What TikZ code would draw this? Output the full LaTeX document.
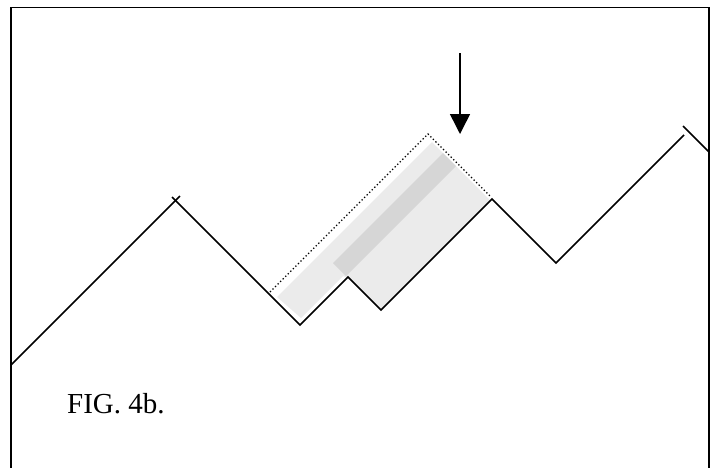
\documentclass[tikz,border=0pt]{standalone}
\usepackage{fontspec}
\setmainfont{Liberation Serif}
\usetikzlibrary{arrows.meta}
\begin{document}
\begin{tikzpicture}[x=1pt,y=-1pt,
  ridge/.style={line width=1.5pt,line join=miter,black},
  dotline/.style={line width=1.3pt,dash pattern=on 1.3pt off 2.3pt},
  lightshade/.style={fill=black!8},
  darkshade/.style={fill=black!16}]
\useasboundingbox (0,0) rectangle (714,467);
% frame (open at bottom)
\draw[line width=1.6pt] (11,470) -- (11,7.5) -- (709,7.5) -- (709,470);
% shading
\fill[lightshade] (277,297) -- (301,318) -- (343,276) -- (348,278) -- (381,309) -- (490,200) -- (432,142) -- cycle;
\fill[darkshade] (333,263) -- (346,276) -- (456,166) -- (443,153) -- cycle;
% ridge line
\coordinate (p0) at (11,365);
\coordinate (p1a) at (180,196);
\coordinate (p1b) at (172,197);
\coordinate (p2) at (300,325);
\coordinate (p3) at (348,277);
\coordinate (p4) at (381,310);
\coordinate (p5) at (492,199);
\coordinate (p6) at (556,263);
\coordinate (p7) at (684,135);
\coordinate (q1) at (683,126);
\coordinate (q2) at (709,152);
\draw[ridge] (p0) -- (p1a);
\draw[ridge] (p1b) -- (p2) -- (p3) -- (p4) -- (p5) -- (p6) -- (p7);
\draw[ridge] (q1) -- (q2);
% dotted outline
\coordinate (d0) at (270,292);
\coordinate (d1) at (428,134);
\coordinate (d2) at (490,196);
\draw[dotline] (d0) -- (d1) -- (d2);
% arrow
\coordinate (a0) at (460,53);
\coordinate (a1) at (460,134);
\draw[line width=1.5pt,-{Triangle[width=20pt,length=20pt]}] (a0) -- (a1);
% label
\node[anchor=base west,font=\fontsize{29}{34}\selectfont,inner sep=0pt] (fig) at (67,413) {FIG. 4b.};
\end{tikzpicture}
\end{document}
